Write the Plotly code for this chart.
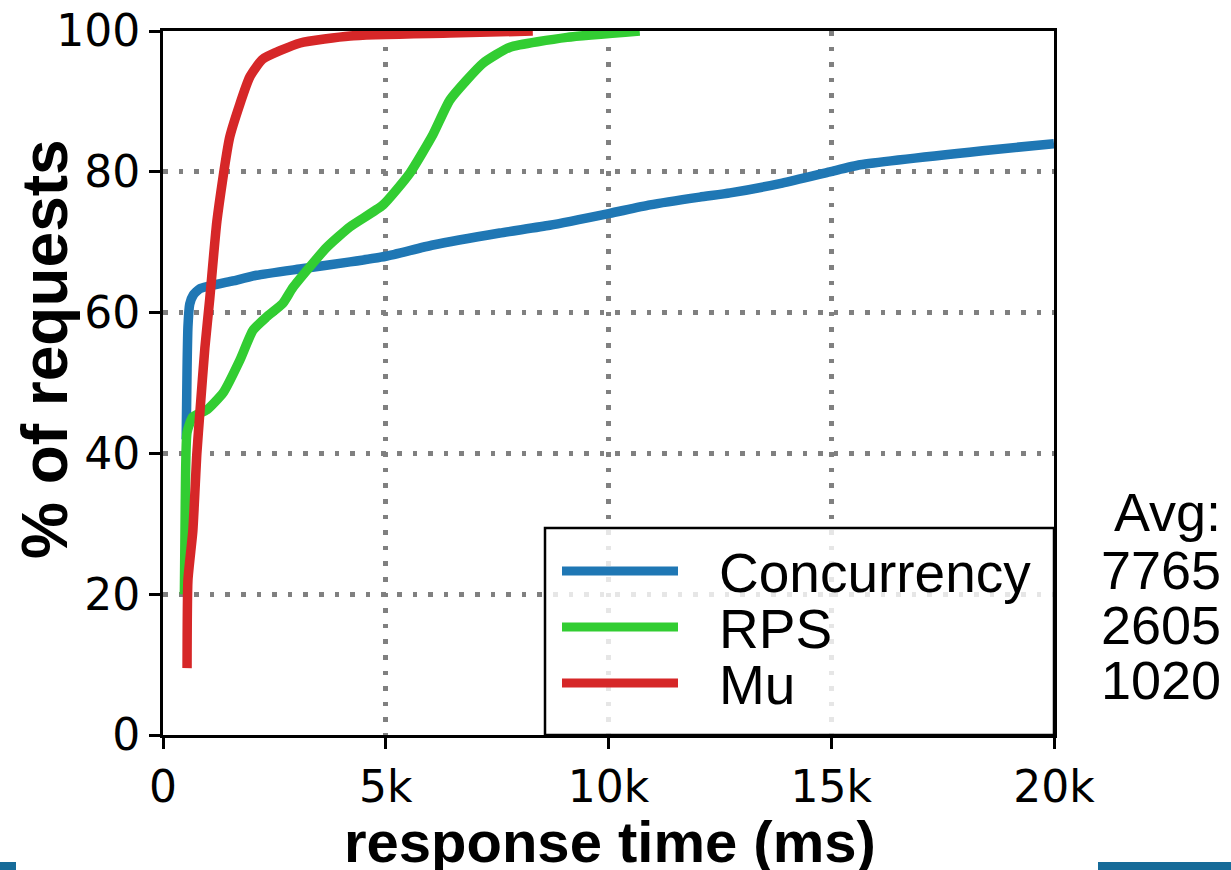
import plotly.graph_objects as go

# ---------------- data (response time in ms, % of requests) ----------------
conc_x = [520, 540, 560, 600, 680, 830, 1570, 2100, 3070, 4200, 5000, 6060, 7560,
          8680, 10030, 10930, 12050, 12730, 13900, 14970, 15650, 18400, 20000]
conc_y = [42, 52, 58, 61.2, 62.5, 63.4, 64.5, 65.3, 66.2, 67.2, 68, 69.6, 71.3,
          72.4, 74.1, 75.3, 76.4, 77, 78.4, 80, 81, 83, 84]

rps_x = [480, 500, 540, 670, 990, 1350, 1730, 2020, 2330, 2690, 2920, 3680,
         4200, 4940, 5540, 6060, 6440, 7180, 7790, 9070, 10700]
rps_y = [20, 33, 43, 45.2, 46.2, 48.6, 53.3, 57.5, 59.4, 61.3, 63.6, 69.3,
         72.2, 75.3, 79.8, 85.3, 90.2, 95.4, 97.7, 99.1, 100]

mu_x = [540, 560, 670, 760, 830, 940, 1050, 1210, 1500, 1950, 2240, 3080,
        4200, 6440, 8300]
mu_y = [9.5, 22, 29, 40, 46, 55, 62, 73, 85, 93.5, 96, 98.3, 99.3, 99.7, 100]

series_names = ["Concurrency", "RPS", "Mu"]
series_colors = ["#1f77b4", "#32cd32", "#d62728"]
avg_label = "Avg:"
avg_values = [7765, 2605, 1020]

x_tickvals = [0, 5000, 10000, 15000, 20000]
x_ticktext = ["0", "5k", "10k", "15k", "20k"]
y_tickvals = [0, 20, 40, 60, 80, 100]
x_title = "response time (ms)"
y_title = "% of requests"

# ---------------- layout geometry (pixels) ----------------
W, H = 1231, 870
L, R, T, B = 163, 1054, 31, 735   # plot area edges


def px(xp):
    return (xp - L) / (R - L)


def py(yp):
    return (B - yp) / (B - T)


fig = go.Figure()
for xs, ys, name, col in zip([conc_x, rps_x, mu_x], [conc_y, rps_y, mu_y],
                             series_names, series_colors):
    fig.add_trace(go.Scatter(x=xs, y=ys, mode="lines", name=name,
                             line=dict(color=col, width=9.5, shape="spline",
                                       smoothing=0.5),
                             showlegend=False))

axis_common = dict(
    showline=True, linecolor="black", linewidth=3, mirror=True,
    ticks="outside", ticklen=11, tickwidth=3, tickcolor="black",
    showgrid=True, gridcolor="#808080", gridwidth=4.5, griddash="4.5px,11.1px",
    zeroline=False,
    tickfont=dict(family="DejaVu Sans", size=44, color="black"),
)

fig.update_xaxes(range=[0, 20000], tickvals=x_tickvals, ticktext=x_ticktext,
                 **axis_common)
fig.update_yaxes(range=[0, 100], tickvals=y_tickvals, **axis_common)

shapes = []
annotations = []

# legend box (semi-transparent white, black frame)
shapes.append(dict(type="rect", xref="paper", yref="paper",
                   x0=px(545), x1=px(1054), y0=py(735), y1=py(528),
                   fillcolor="rgba(255,255,255,0.8)",
                   line=dict(color="black", width=2.5), layer="above"))
leg_y = [571, 627, 683]
for name, col, yy in zip(series_names, series_colors, leg_y):
    shapes.append(dict(type="line", xref="paper", yref="paper",
                       x0=px(562), x1=px(678), y0=py(yy), y1=py(yy),
                       line=dict(color=col, width=9), layer="above"))
    annotations.append(dict(text=name, xref="paper", yref="paper",
                            x=px(717), y=py(yy + 2), xanchor="left",
                            yanchor="middle", showarrow=False,
                            font=dict(family="Liberation Sans", size=55,
                                      color="black")))

# Avg annotations
avg_texts = [avg_label] + [str(v) for v in avg_values]
avg_y = [512, 570, 625, 680]
for t, yy in zip(avg_texts, avg_y):
    annotations.append(dict(text=t, xref="paper", yref="paper",
                            x=px(1223), y=py(yy), xanchor="right",
                            yanchor="middle", showarrow=False,
                            font=dict(family="Liberation Sans", size=54,
                                      color="black")))

# axis titles
annotations.append(dict(text="<b>" + y_title + "</b>", xref="paper",
                        yref="paper", x=px(45), y=py(349), textangle=-90,
                        xanchor="center", yanchor="middle", showarrow=False,
                        font=dict(family="Liberation Sans", size=64,
                                  color="black")))
annotations.append(dict(text="<b>" + x_title + "</b>", xref="paper",
                        yref="paper", x=px(610), y=py(876), xanchor="center",
                        yanchor="bottom", showarrow=False,
                        font=dict(family="Liberation Sans", size=58,
                                  color="black")))

# decorative bars at the bottom edge of the image
for x0, x1 in [(0, 16), (1098, 1231)]:
    shapes.append(dict(type="rect", xref="paper", yref="paper",
                       x0=px(x0), x1=px(x1), y0=py(870), y1=py(862),
                       fillcolor="#166b99", line=dict(width=0),
                       layer="above"))

fig.update_layout(
    width=W, height=H, autosize=False,
    margin=dict(l=L, r=W - R, t=T, b=H - B, pad=0, autoexpand=False),
    plot_bgcolor="white", paper_bgcolor="white",
    shapes=shapes, annotations=annotations, showlegend=False,
)

fig.write_html("out.html")
